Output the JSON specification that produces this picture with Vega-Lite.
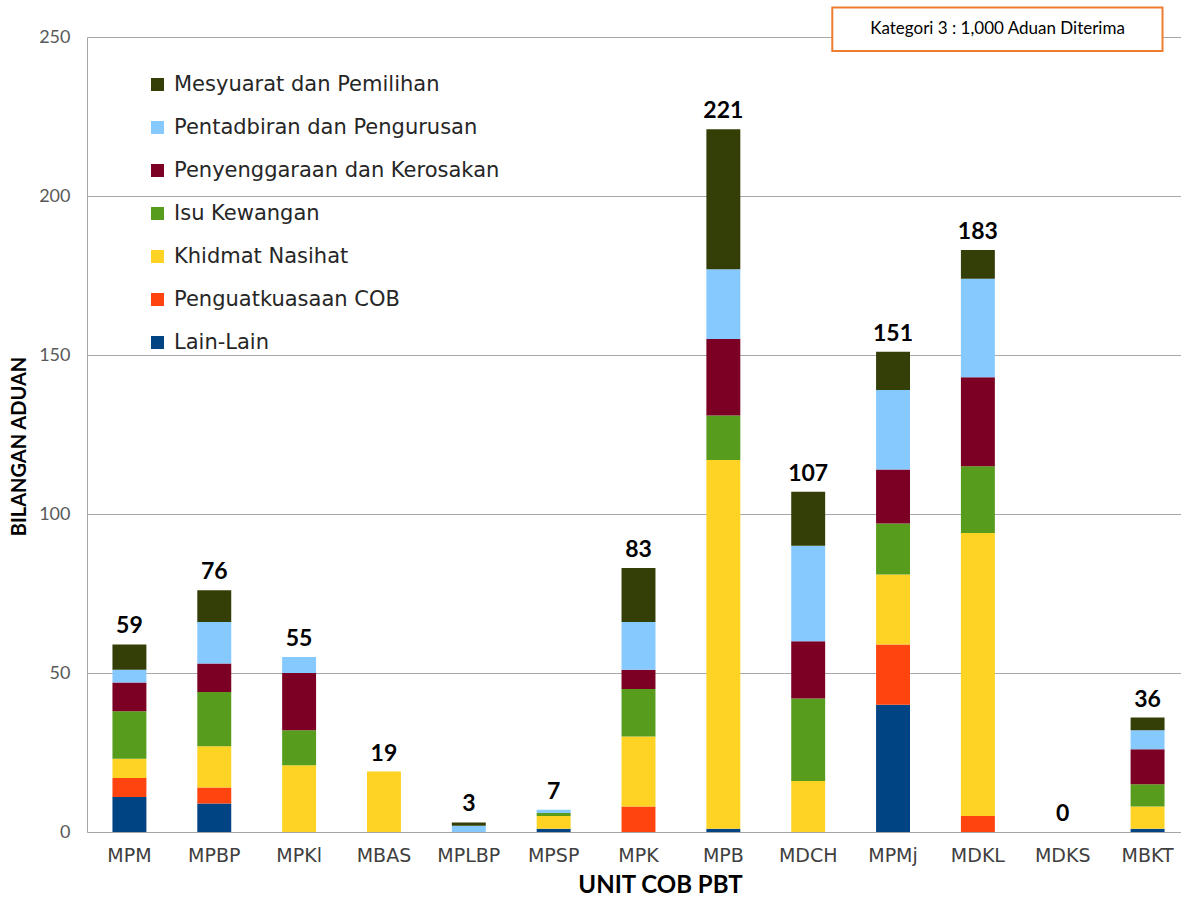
{
  "$schema": "https://vega.github.io/schema/vega-lite/v6.json",
  "width": 1103,
  "height": 795,
  "autosize": {"type": "none"},
  "padding": {"left": 87, "top": 37, "right": 0, "bottom": 66},
  "background": "white",
  "config": {"view": {"stroke": null}, "font": "Lato"},
  "data": {
    "values": [
      {"unit": "MPM", "category": "Lain-Lain", "value": 11},
      {"unit": "MPM", "category": "Penguatkuasaan COB", "value": 6},
      {"unit": "MPM", "category": "Khidmat Nasihat", "value": 6},
      {"unit": "MPM", "category": "Isu Kewangan", "value": 15},
      {"unit": "MPM", "category": "Penyenggaraan dan Kerosakan", "value": 9},
      {"unit": "MPM", "category": "Pentadbiran dan Pengurusan", "value": 4},
      {"unit": "MPM", "category": "Mesyuarat dan Pemilihan", "value": 8},
      {"unit": "MPBP", "category": "Lain-Lain", "value": 9},
      {"unit": "MPBP", "category": "Penguatkuasaan COB", "value": 5},
      {"unit": "MPBP", "category": "Khidmat Nasihat", "value": 13},
      {"unit": "MPBP", "category": "Isu Kewangan", "value": 17},
      {"unit": "MPBP", "category": "Penyenggaraan dan Kerosakan", "value": 9},
      {"unit": "MPBP", "category": "Pentadbiran dan Pengurusan", "value": 13},
      {"unit": "MPBP", "category": "Mesyuarat dan Pemilihan", "value": 10},
      {"unit": "MPKl", "category": "Khidmat Nasihat", "value": 21},
      {"unit": "MPKl", "category": "Isu Kewangan", "value": 11},
      {"unit": "MPKl", "category": "Penyenggaraan dan Kerosakan", "value": 18},
      {"unit": "MPKl", "category": "Pentadbiran dan Pengurusan", "value": 5},
      {"unit": "MBAS", "category": "Khidmat Nasihat", "value": 19},
      {"unit": "MPLBP", "category": "Pentadbiran dan Pengurusan", "value": 2},
      {"unit": "MPLBP", "category": "Mesyuarat dan Pemilihan", "value": 1},
      {"unit": "MPSP", "category": "Lain-Lain", "value": 1},
      {"unit": "MPSP", "category": "Khidmat Nasihat", "value": 4},
      {"unit": "MPSP", "category": "Isu Kewangan", "value": 1},
      {"unit": "MPSP", "category": "Pentadbiran dan Pengurusan", "value": 1},
      {"unit": "MPK", "category": "Penguatkuasaan COB", "value": 8},
      {"unit": "MPK", "category": "Khidmat Nasihat", "value": 22},
      {"unit": "MPK", "category": "Isu Kewangan", "value": 15},
      {"unit": "MPK", "category": "Penyenggaraan dan Kerosakan", "value": 6},
      {"unit": "MPK", "category": "Pentadbiran dan Pengurusan", "value": 15},
      {"unit": "MPK", "category": "Mesyuarat dan Pemilihan", "value": 17},
      {"unit": "MPB", "category": "Lain-Lain", "value": 1},
      {"unit": "MPB", "category": "Khidmat Nasihat", "value": 116},
      {"unit": "MPB", "category": "Isu Kewangan", "value": 14},
      {"unit": "MPB", "category": "Penyenggaraan dan Kerosakan", "value": 24},
      {"unit": "MPB", "category": "Pentadbiran dan Pengurusan", "value": 22},
      {"unit": "MPB", "category": "Mesyuarat dan Pemilihan", "value": 44},
      {"unit": "MDCH", "category": "Khidmat Nasihat", "value": 16},
      {"unit": "MDCH", "category": "Isu Kewangan", "value": 26},
      {"unit": "MDCH", "category": "Penyenggaraan dan Kerosakan", "value": 18},
      {"unit": "MDCH", "category": "Pentadbiran dan Pengurusan", "value": 30},
      {"unit": "MDCH", "category": "Mesyuarat dan Pemilihan", "value": 17},
      {"unit": "MPMj", "category": "Lain-Lain", "value": 40},
      {"unit": "MPMj", "category": "Penguatkuasaan COB", "value": 19},
      {"unit": "MPMj", "category": "Khidmat Nasihat", "value": 22},
      {"unit": "MPMj", "category": "Isu Kewangan", "value": 16},
      {"unit": "MPMj", "category": "Penyenggaraan dan Kerosakan", "value": 17},
      {"unit": "MPMj", "category": "Pentadbiran dan Pengurusan", "value": 25},
      {"unit": "MPMj", "category": "Mesyuarat dan Pemilihan", "value": 12},
      {"unit": "MDKL", "category": "Penguatkuasaan COB", "value": 5},
      {"unit": "MDKL", "category": "Khidmat Nasihat", "value": 89},
      {"unit": "MDKL", "category": "Isu Kewangan", "value": 21},
      {"unit": "MDKL", "category": "Penyenggaraan dan Kerosakan", "value": 28},
      {"unit": "MDKL", "category": "Pentadbiran dan Pengurusan", "value": 31},
      {"unit": "MDKL", "category": "Mesyuarat dan Pemilihan", "value": 9},
      {"unit": "MDKS", "category": "Lain-Lain", "value": 0},
      {"unit": "MBKT", "category": "Lain-Lain", "value": 1},
      {"unit": "MBKT", "category": "Khidmat Nasihat", "value": 7},
      {"unit": "MBKT", "category": "Isu Kewangan", "value": 7},
      {"unit": "MBKT", "category": "Penyenggaraan dan Kerosakan", "value": 11},
      {"unit": "MBKT", "category": "Pentadbiran dan Pengurusan", "value": 6},
      {"unit": "MBKT", "category": "Mesyuarat dan Pemilihan", "value": 4}
    ]
  },
  "layer": [
    {
      "transform": [
        {"calculate": "indexof(['Lain-Lain','Penguatkuasaan COB','Khidmat Nasihat','Isu Kewangan','Penyenggaraan dan Kerosakan','Pentadbiran dan Pengurusan','Mesyuarat dan Pemilihan'], datum.category)", "as": "stackOrder"}
      ],
      "mark": {"type": "bar"},
      "encoding": {
        "x": {
          "field": "unit", "type": "nominal",
          "sort": ["MPM","MPBP","MPKl","MBAS","MPLBP","MPSP","MPK","MPB","MDCH","MPMj","MDKL","MDKS","MBKT"],
          "scale": {"paddingInner": 0.6, "paddingOuter": 0.3},
          "title": "UNIT COB PBT",
          "axis": {
            "labelAngle": 0, "labelFont": "DejaVu Sans", "labelFontSize": 19, "labelColor": "#404040",
            "labelPadding": 14, "ticks": false, "domainColor": "#a6a6a6", "grid": false,
            "titleFont": "Lato", "titleFontSize": 24, "titleFontWeight": "bold", "titleColor": "#000000",
            "titleX": 573, "titlePadding": 8
          }
        },
        "y": {
          "field": "value", "type": "quantitative", "stack": "zero",
          "scale": {"domain": [0, 250], "nice": false},
          "title": "BILANGAN ADUAN",
          "axis": {
            "values": [0, 50, 100, 150, 200, 250], "grid": true, "gridColor": "#a8a8a8", "ticks": false,
            "labelPadding": 17, "labelFont": "Lato", "labelFontSize": 18, "labelColor": "#595959",
            "domainColor": "#a6a6a6",
            "titleFont": "Lato", "titleFontSize": 20, "titleFontWeight": "bold", "titleColor": "#000000",
            "titleAngle": -90, "titleX": -68, "titleY": 409, "titleBaseline": "middle"
          }
        },
        "color": {
          "field": "category", "type": "nominal",
          "sort": ["Lain-Lain","Penguatkuasaan COB","Khidmat Nasihat","Isu Kewangan","Penyenggaraan dan Kerosakan","Pentadbiran dan Pengurusan","Mesyuarat dan Pemilihan"],
          "scale": {
            "domain": ["Lain-Lain","Penguatkuasaan COB","Khidmat Nasihat","Isu Kewangan","Penyenggaraan dan Kerosakan","Pentadbiran dan Pengurusan","Mesyuarat dan Pemilihan"],
            "range": ["#004483","#FF4410","#FED323","#589C1E","#7B0023","#85C9FF","#333F06"]
          },
          "legend": {
            "orient": "none", "legendX": 60, "legendY": 37, "title": null,
            "values": ["Mesyuarat dan Pemilihan","Pentadbiran dan Pengurusan","Penyenggaraan dan Kerosakan","Isu Kewangan","Khidmat Nasihat","Penguatkuasaan COB","Lain-Lain"],
            "labelFont": "DejaVu Sans", "labelFontSize": 21, "labelColor": "#262626", "labelLimit": 0,
            "symbolType": "square", "symbolSize": 169, "symbolStrokeWidth": 0, "symbolOpacity": 1,
            "labelOffset": 6, "rowPadding": 21, "padding": 0
          }
        },
        "order": {"field": "stackOrder", "type": "quantitative", "sort": "ascending"}
      }
    },
    {
      "transform": [{"aggregate": [{"op": "sum", "field": "value", "as": "total"}], "groupby": ["unit"]}],
      "mark": {"type": "text", "font": "Lato", "fontSize": 23, "fontWeight": "bold", "color": "#000000", "baseline": "alphabetic", "dy": -11},
      "encoding": {
        "x": {"field": "unit", "type": "nominal", "sort": ["MPM","MPBP","MPKl","MBAS","MPLBP","MPSP","MPK","MPB","MDCH","MPMj","MDKL","MDKS","MBKT"]},
        "y": {"field": "total", "type": "quantitative", "title": "BILANGAN ADUAN"},
        "text": {"field": "total", "type": "quantitative"}
      }
    },
    {
      "data": {"values": [{}]},
      "mark": {"type": "rect", "fill": "#ffffff", "stroke": "#ED7D31", "strokeWidth": 2, "clip": false},
      "encoding": {
        "x": {"datum": "MDCH", "bandPosition": 1.21},
        "x2": {"datum": "MBKT", "bandPosition": 0.94},
        "y": {"datum": 259.3, "type": "quantitative", "title": "BILANGAN ADUAN"},
        "y2": {"datum": 245.6}
      }
    },
    {
      "data": {"values": [{}]},
      "mark": {"type": "text", "font": "Lato", "fontSize": 17, "color": "#000000", "baseline": "middle", "align": "center"},
      "encoding": {
        "x": {"datum": "MDKL", "bandPosition": 1.08},
        "y": {"datum": 252.5, "type": "quantitative", "title": "BILANGAN ADUAN"},
        "text": {"value": "Kategori 3 : 1,000 Aduan Diterima"}
      }
    }
  ]
}
